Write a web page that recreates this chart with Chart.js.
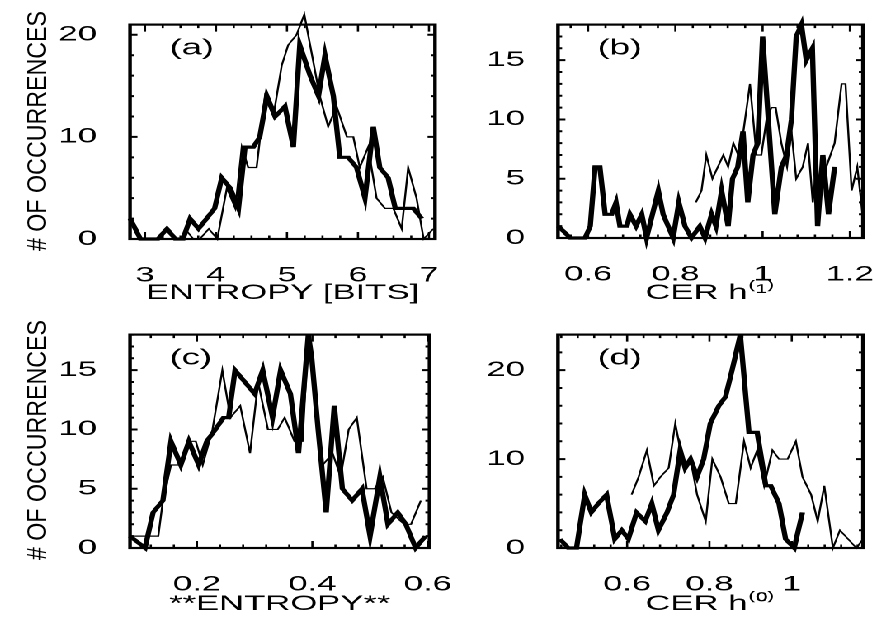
<!DOCTYPE html>
<html>
<head>
<meta charset="utf-8">
<script src="https://cdn.jsdelivr.net/npm/chart.js@4.4.1/dist/chart.umd.min.js"></script>
<style>
  body { margin: 0; background: #fff; width: 873px; height: 621px; overflow: hidden; position: relative; }
  /* the original figure is stretched sideways, so draw narrow and widen */
  #stretch { position: absolute; left: 0; top: 0; width: 529px; height: 621px; transform-origin: 0 0; transform: scaleX(1.65); }
  #stretch canvas { position: absolute; }
  .ytitle { position: absolute; font: 28px "Liberation Sans", Arial, sans-serif; white-space: nowrap; line-height: 1;
            transform: translate(-50%, -50%) rotate(-90deg) scaleX(0.83); }
</style>
</head>
<body>
<div id="stretch">
  <canvas id="chartA" width="290" height="310" style="left:0;top:0"></canvas>
  <canvas id="chartB" width="290" height="310" style="left:270px;top:0"></canvas>
  <canvas id="chartC" width="290" height="311" style="left:0;top:310px"></canvas>
  <canvas id="chartD" width="290" height="311" style="left:270px;top:310px"></canvas>
</div>
<div class="ytitle" style="left:37px;top:131px"># OF OCCURRENCES</div>
<div class="ytitle" style="left:37px;top:440px"># OF OCCURRENCES</div>
<script>
// (a) entropy [bits]
const aThickX = [2.791, 2.936, 3.182, 3.309, 3.427, 3.536, 3.636, 3.754, 3.981, 4.081, 4.199, 4.317, 4.408, 4.526, 4.617, 4.717, 4.835, 4.971, 5.090, 5.180, 5.326, 5.444, 5.535, 5.653, 5.744, 5.862, 5.980, 6.098, 6.216, 6.307, 6.425, 6.525, 6.779, 6.898];
const aThickY = [2, 0, 0, 1, 0, 0, 2, 1, 3, 6, 5, 3, 9, 9, 10, 14, 12, 13, 9, 19, 16, 14, 18, 14, 8, 8, 7, 4, 11, 7, 6, 3, 3, 2];
const aThinX = [3.563, 3.681, 3.772, 3.899, 4.018, 4.154, 4.272, 4.363, 4.454, 4.572, 4.690, 4.808, 4.926, 5.017, 5.135, 5.244, 5.462, 5.580, 5.698, 5.844, 5.934, 6.025, 6.143, 6.262, 6.380, 6.498, 6.616, 6.707, 6.825, 6.925, 7.061];
const aThinY = [1, 0, 0, 1, 0, 5, 3, 9, 7, 7, 14, 12, 17, 19, 20, 22, 14, 11, 13, 10, 10, 7, 9, 4, 3, 3, 1, 7, 4, 0, 1];
const aTicksX = [3, 4, 5, 6, 7];
const aTicksY = [0, 10, 20];

// (b) CER h(1)
const bThickX = [0.532, 0.559, 0.593, 0.605, 0.616, 0.627, 0.639, 0.654, 0.664, 0.673, 0.689, 0.696, 0.710, 0.723, 0.734, 0.761, 0.772, 0.795, 0.808, 0.822, 0.837, 0.856, 0.868, 0.883, 0.893, 0.906, 0.921, 0.931, 0.943, 0.955, 0.966, 0.978, 0.989, 1.000, 1.028, 1.043, 1.055, 1.066, 1.077, 1.089, 1.100, 1.114, 1.126, 1.138, 1.151, 1.165];
const bThickY = [1, 0, 0, 1, 6, 6, 2, 2, 3, 1, 1, 2, 1, 2, 0, 4, 2, 0, 3, 1, 0, 1, 0, 2, 1, 4, 1, 5, 6, 9, 3, 7, 8, 17, 2, 6, 7, 10, 17, 18, 15, 16, 1, 7, 2, 6];
const bThinX = [0.847, 0.860, 0.871, 0.885, 0.910, 0.921, 0.933, 0.944, 0.956, 0.971, 0.986, 0.997, 1.009, 1.020, 1.030, 1.043, 1.056, 1.066, 1.077, 1.092, 1.104, 1.115, 1.123, 1.131, 1.146, 1.165, 1.181, 1.190, 1.204, 1.217, 1.229];
const bThinY = [3, 4, 7, 5, 7, 6, 8, 7, 9, 13, 7, 7, 10, 11, 11, 8, 6, 9, 5, 6, 8, 3, 6, 4, 6, 8, 13, 13, 4, 6, 2];
const bTicksX = [0.6, 0.8, 1, 1.2];
const bTicksY = [0, 5, 10, 15];

// (c) **ENTROPY**
const cThickX = [0.084, 0.110, 0.124, 0.141, 0.155, 0.172, 0.186, 0.203, 0.217, 0.232, 0.246, 0.255, 0.266, 0.283, 0.300, 0.314, 0.331, 0.345, 0.362, 0.376, 0.393, 0.399, 0.410, 0.424, 0.438, 0.452, 0.469, 0.486, 0.500, 0.517, 0.531, 0.548, 0.562, 0.579, 0.596];
const cThickY = [1, 0, 3, 4, 9, 7, 9, 7, 9, 10, 11, 11, 15, 14, 13, 15, 11, 15, 13, 8, 18, 16, 10, 3, 12, 5, 4, 5, 1, 6, 2, 3, 2, 0, 1];
const cThinX = [0.084, 0.133, 0.141, 0.155, 0.170, 0.184, 0.198, 0.210, 0.227, 0.244, 0.258, 0.275, 0.292, 0.306, 0.323, 0.340, 0.352, 0.369, 0.383, 0.393, 0.399, 0.418, 0.435, 0.449, 0.463, 0.477, 0.494, 0.508, 0.522, 0.537, 0.559, 0.571, 0.588];
const cThinY = [1, 1, 4, 7, 7, 9, 9, 7, 10, 15, 11, 12, 8, 14, 10, 10, 11, 9, 9, 18, 16, 7, 8, 6, 10, 11, 5, 5, 6, 3, 2, 2, 4];
const cTicksX = [0.2, 0.4, 0.6];
const cTicksY = [0, 5, 10, 15];

// (d) CER h(0)
const dThickX = [0.437, 0.457, 0.477, 0.497, 0.513, 0.530, 0.550, 0.570, 0.587, 0.603, 0.623, 0.644, 0.660, 0.676, 0.697, 0.713, 0.729, 0.741, 0.754, 0.770, 0.786, 0.802, 0.823, 0.839, 0.855, 0.875, 0.896, 0.916, 0.937, 0.949, 0.969, 0.985, 1.006, 1.026];
const dThickY = [1, 0, 0, 6, 4, 5, 6, 1, 2, 1, 4, 3, 5, 2, 4, 6, 11, 9, 10, 8, 10, 14, 16, 17, 20, 24, 13, 13, 7, 7, 5, 1, 0, 4];
const dThinX = [0.611, 0.628, 0.648, 0.665, 0.681, 0.701, 0.717, 0.738, 0.754, 0.770, 0.791, 0.807, 0.827, 0.847, 0.864, 0.884, 0.900, 0.916, 0.933, 0.953, 0.969, 0.990, 1.010, 1.026, 1.047, 1.063, 1.079, 1.100, 1.117, 1.137, 1.157, 1.173];
const dThinY = [6, 8, 11, 7, 8, 9, 14, 9, 10, 6, 3, 10, 8, 5, 5, 12, 9, 11, 7, 11, 10, 10, 12, 8, 6, 3, 7, 0, 2, 1, 0, 1];
const dTicksX = [0.6, 0.8, 1];
const dTicksY = [0, 10, 20];

const FONT = '"Liberation Sans", Arial, sans-serif';

function toPoints(xs, ys) {
    return xs.map((x, i) => ({ x: x, y: ys[i] }));
}

function stepValues(min, max, step) {
    const out = [];
    for (let k = Math.ceil(min / step - 1e-6); k * step <= max + 1e-9; k++) out.push(k * step);
    return out;
}

// box round the plot with inward ticks on all four sides
const frameTicks = {
    id: 'frameTicks',
    afterDatasetsDraw(chart, args, opts) {
        const { ctx, chartArea: a, scales: { x, y } } = chart;
        const isMajor = (v, majors, step) => majors.some(m => Math.abs(m - v) < step / 10);
        ctx.save();
        ctx.strokeStyle = '#000';
        ctx.lineWidth = 2.2;
        ctx.strokeRect(a.left, a.top, a.width, a.height);

        ctx.lineWidth = 1.3;
        ctx.beginPath();
        stepValues(x.min, x.max, opts.xMinor).forEach(v => {
            const px = x.getPixelForValue(v);
            const len = isMajor(v, opts.xMajor, opts.xMinor) ? 7 : 3.5;
            ctx.moveTo(px, a.bottom); ctx.lineTo(px, a.bottom - len);
            ctx.moveTo(px, a.top); ctx.lineTo(px, a.top + len);
        });
        ctx.stroke();

        ctx.lineWidth = 2;
        ctx.beginPath();
        stepValues(y.min, y.max, opts.yMinor).forEach(v => {
            const py = y.getPixelForValue(v);
            const len = isMajor(v, opts.yMajor, opts.yMinor) ? 4.5 : 2.5;
            ctx.moveTo(a.left, py); ctx.lineTo(a.left + len, py);
            ctx.moveTo(a.right, py); ctx.lineTo(a.right - len, py);
        });
        ctx.stroke();
        ctx.restore();
    }
};

// "(a)", "(b)" ... in the upper left of each box
const panelLabel = {
    id: 'panelLabel',
    afterDraw(chart, args, opts) {
        const { ctx, chartArea: a } = chart;
        ctx.save();
        ctx.fillStyle = '#000';
        ctx.font = '22px ' + FONT;
        ctx.textBaseline = 'top';
        ctx.fillText(opts.text, a.left + 24, a.top + 13);
        ctx.restore();
    }
};

function makePanel(canvasId, p) {
    return new Chart(document.getElementById(canvasId), {
        type: 'line',
        data: {
            datasets: [
                { data: toPoints(p.thickX, p.thickY), borderColor: '#000', borderWidth: 3.2, pointRadius: 0, tension: 0, clip: false },
                { data: toPoints(p.thinX, p.thinY), borderColor: '#000', borderWidth: 1.2, pointRadius: 0, tension: 0, clip: false }
            ]
        },
        options: {
            responsive: false,
            animation: false,
            devicePixelRatio: 2,
            layout: { padding: { top: p.padTop, right: p.padRight, bottom: 0, left: 0 } },
            plugins: {
                legend: { display: false },
                tooltip: { enabled: false },
                frameTicks: { xMajor: p.ticksX, xMinor: p.xMinor, yMajor: p.ticksY, yMinor: p.yMinor },
                panelLabel: { text: p.label }
            },
            scales: {
                x: {
                    type: 'linear',
                    min: p.xMin,
                    max: p.xMax,
                    afterBuildTicks: s => { s.ticks = p.ticksX.map(v => ({ value: v })); },
                    afterFit: s => { s.height = p.xHeight; },
                    grid: { display: false },
                    border: { display: false },
                    ticks: { autoSkip: false, maxRotation: 0, padding: 16, color: '#000', font: { family: FONT, size: 21 }, callback: v => String(v) },
                    title: { display: true, text: p.xTitle, color: '#000', font: { family: FONT, size: 21 }, padding: { top: 0, bottom: 4 } }
                },
                y: {
                    min: 0,
                    max: p.yMax,
                    afterBuildTicks: s => { s.ticks = p.ticksY.map(v => ({ value: v })); },
                    afterFit: s => { s.width = p.yWidth; },
                    grid: { display: false },
                    border: { display: false },
                    ticks: { padding: 12, color: '#000', font: { family: FONT, size: 21 }, callback: v => String(v) }
                }
            }
        },
        plugins: [frameTicks, panelLabel]
    });
}

makePanel('chartA', {
    label: '(a)', xTitle: 'ENTROPY [BITS]',
    thickX: aThickX, thickY: aThickY, thinX: aThinX, thinY: aThinY,
    ticksX: aTicksX, ticksY: aTicksY, xMin: 2.789, xMax: 7.085, yMax: 21, xMinor: 0.25, yMinor: 2,
    padTop: 23, padRight: 26.36, yWidth: 78.79, xHeight: 71
});
makePanel('chartB', {
    label: '(b)', xTitle: 'CER h\u207D\u00B9\u207E',
    thickX: bThickX, thickY: bThickY, thinX: bThinX, thinY: bThinY,
    ticksX: bTicksX, ticksY: bTicksY, xMin: 0.531, xMax: 1.23, yMax: 18, xMinor: 0.04, yMinor: 1,
    padTop: 23, padRight: 36.97, yWidth: 68.18, xHeight: 72
});
makePanel('chartC', {
    label: '(c)', xTitle: '**ENTROPY**',
    thickX: cThickX, thickY: cThickY, thinX: cThinX, thinY: cThinY,
    ticksX: cTicksX, ticksY: cTicksY, xMin: 0.084, xMax: 0.603, yMax: 18, xMinor: 0.04, yMinor: 1,
    padTop: 22, padRight: 26.36, yWidth: 78.79, xHeight: 73
});
makePanel('chartD', {
    label: '(d)', xTitle: 'CER h\u207D\u2070\u207E',
    thickX: dThickX, thickY: dThickY, thinX: dThinX, thinY: dThinY,
    ticksX: dTicksX, ticksY: dTicksY, xMin: 0.432, xMax: 1.173, yMax: 24, xMinor: 0.04, yMinor: 2,
    padTop: 22, padRight: 36.97, yWidth: 68.18, xHeight: 73
});
</script>
</body>
</html>
